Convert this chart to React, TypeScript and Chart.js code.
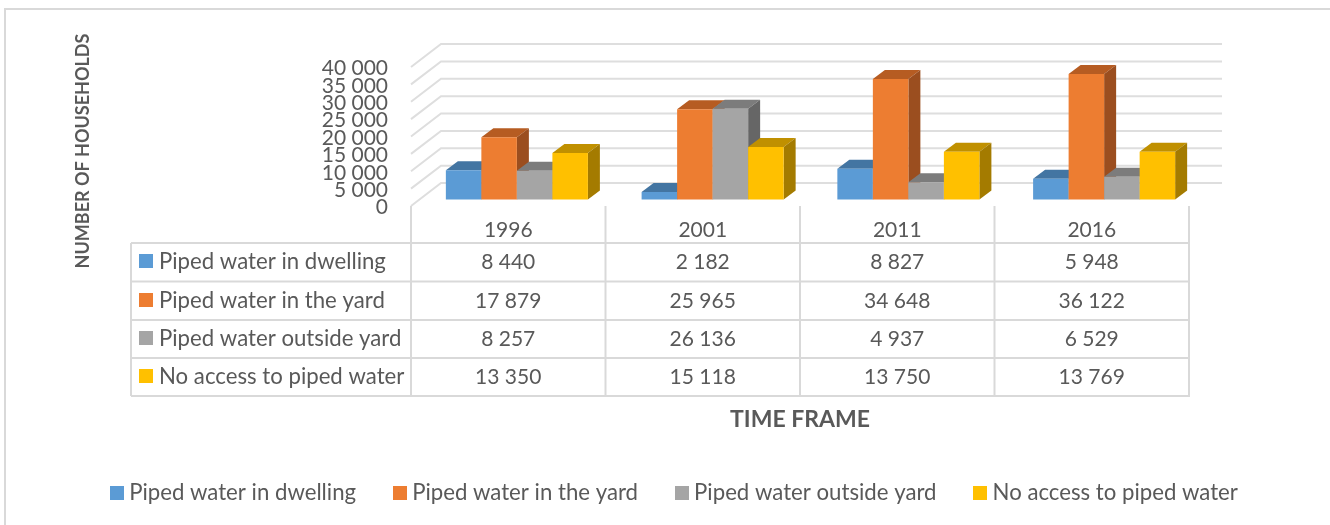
import React, { useEffect, useRef } from "react";
import { Chart, registerables } from "chart.js";

Chart.register(...registerables);

const categories = ["1996", "2001", "2011", "2016"];
const seriesNames = [
  "Piped water in dwelling",
  "Piped water in the yard",
  "Piped water outside yard",
  "No access to piped water",
];
const inDwelling = [8440, 2182, 8827, 5948];
const inYard = [17879, 25965, 34648, 36122];
const outsideYard = [8257, 26136, 4937, 6529];
const noAccess = [13350, 15118, 13750, 13769];
const seriesValues = [inDwelling, inYard, outsideYard, noAccess];
const yTicks = [0, 5000, 10000, 15000, 20000, 25000, 30000, 35000, 40000];
const yAxisTitle = "NUMBER OF HOUSEHOLDS";
const xAxisTitle = "TIME FRAME";

const frontColors = ["#5B9BD5", "#ED7D31", "#A5A5A5", "#FFC000"];
const topColors = ["#4375A2", "#B65C22", "#7C7C7C", "#C09000"];
const sideColors = ["#386085", "#9B4E1F", "#666666", "#A47B00"];

const FONT = "Lato";
const TEXT = "#595959";
const GRID = "#D9D9D9";
const fmt = (v: number) => String(v).replace(/\B(?=(\d{3})+$)/g, " ");

const swatch = (color: string) => {
  const c = document.createElement("canvas");
  c.width = 14;
  c.height = 14;
  const g = c.getContext("2d")!;
  g.fillStyle = color;
  g.fillRect(0, 0, 14, 14);
  return c;
};

const DEPTH_X = 12;
const DEPTH_Y = 9;

const chart3d = {
  id: "chart3d",
  beforeDatasetsDraw(chart: any) {
    const ctx = chart.ctx;
    const y = chart.scales.y;
    ctx.save();
    // frame
    ctx.strokeStyle = GRID;
    ctx.lineWidth = 2;
    ctx.strokeRect(5, 9, 1340, 540);
    // walls
    ctx.lineWidth = 2;
    ctx.strokeStyle = "#DEDEDE";
    for (const v of yTicks) {
      const p = y.getPixelForValue(v);
      ctx.beginPath();
      ctx.moveTo(411, p + 6.5);
      ctx.lineTo(441, p - 16.5);
      ctx.lineTo(1222, p - 16.5);
      ctx.stroke();
    }
    // tick labels on the front plane
    ctx.fillStyle = TEXT;
    ctx.font = `21px ${FONT}`;
    ctx.textAlign = "right";
    ctx.textBaseline = "middle";
    for (const v of yTicks) {
      ctx.fillText(fmt(v), 388, y.getPixelForValue(v) + 8);
    }
    // bars, left to right, so each one covers the side of the previous
    seriesValues.forEach((_, i) => {
      const meta = chart.getDatasetMeta(i);
      meta.data.forEach((el: any) => {
        const { x, y: top, width, base } = el.getProps(["x", "y", "width", "base"], true);
        const l = x - width / 2;
        const r = x + width / 2;
        ctx.fillStyle = topColors[i];
        ctx.beginPath();
        ctx.moveTo(l, top);
        ctx.lineTo(l + DEPTH_X, top - DEPTH_Y);
        ctx.lineTo(r + DEPTH_X, top - DEPTH_Y);
        ctx.lineTo(r, top);
        ctx.closePath();
        ctx.fill();
        ctx.fillStyle = sideColors[i];
        ctx.beginPath();
        ctx.moveTo(r, top);
        ctx.lineTo(r + DEPTH_X, top - DEPTH_Y);
        ctx.lineTo(r + DEPTH_X, base - DEPTH_Y);
        ctx.lineTo(r, base);
        ctx.closePath();
        ctx.fill();
        el.draw(ctx);
      });
    });
    ctx.restore();
    return false;
  },
  afterDraw(chart: any) {
    const ctx = chart.ctx;
    ctx.save();
    const cols = [411, 605.5, 800, 994.5, 1189];
    const rows = [243, 281.5, 320, 358, 396];
    ctx.strokeStyle = GRID;
    ctx.lineWidth = 2;
    for (const x of cols) {
      ctx.beginPath();
      ctx.moveTo(x, 206);
      ctx.lineTo(x, 396);
      ctx.stroke();
    }
    ctx.beginPath();
    ctx.moveTo(131, 243);
    ctx.lineTo(131, 396);
    ctx.stroke();
    for (const r of rows) {
      ctx.beginPath();
      ctx.moveTo(131, r);
      ctx.lineTo(1190, r);
      ctx.stroke();
    }
    ctx.fillStyle = TEXT;
    ctx.font = `21px ${FONT}`;
    ctx.textBaseline = "middle";
    ctx.textAlign = "center";
    categories.forEach((c, j) => {
      ctx.fillText(c, (cols[j] + cols[j + 1]) / 2, 230);
    });
    seriesNames.forEach((name, i) => {
      const cy = (rows[i] + rows[i + 1]) / 2;
      ctx.fillStyle = frontColors[i];
      ctx.fillRect(139, Math.round(cy - 8), 14, 14);
      ctx.fillStyle = TEXT;
      ctx.textAlign = "left";
      ctx.font = `22.2px ${FONT}`;
      ctx.fillText(name, 159, cy);
      ctx.textAlign = "center";
      ctx.font = `21px ${FONT}`;
      seriesValues[i].forEach((v, j) => {
        ctx.fillText(fmt(v), (cols[j] + cols[j + 1]) / 2, cy);
      });
    });
    // axis titles
    ctx.font = `bold 23px ${FONT}`;
    ctx.fillText(xAxisTitle, 800, 420);
    ctx.save();
    ctx.translate(83, 151);
    ctx.rotate(-Math.PI / 2);
    ctx.font = `bold 18px ${FONT}`;
    ctx.fillText(yAxisTitle, 0, 0);
    ctx.restore();
    ctx.restore();
  },
};

export default function App() {
  const ref = useRef<HTMLCanvasElement>(null);
  useEffect(() => {
    const chart = new Chart(ref.current!, {
      type: "bar",
      data: {
        labels: categories,
        datasets: seriesNames.map((name, i) => ({
          label: name,
          data: seriesValues[i],
          backgroundColor: frontColors[i],
          borderWidth: 0,
          categoryPercentage: 0.7256,
          barPercentage: 1,
        })),
      },
      options: {
        responsive: false,
        animation: false,
        events: [],
        layout: { padding: { left: 23, right: 0, top: 60.5, bottom: 11 } },
        plugins: {
          tooltip: { enabled: false },
          title: { display: false },
          legend: {
            display: true,
            position: "bottom",
            labels: {
              font: { family: FONT, size: 22.2 },
              color: TEXT,
              usePointStyle: true,
              pointStyleWidth: 3,
              boxHeight: 14,
              padding: 42,
              generateLabels: () =>
                seriesNames.map((name, i) => ({
                  text: name,
                  fillStyle: frontColors[i],
                  strokeStyle: frontColors[i],
                  lineWidth: 0,
                  pointStyle: swatch(frontColors[i]),
                  datasetIndex: i,
                  fontColor: TEXT,
                })),
            },
          },
        },
        scales: {
          x: {
            display: true,
            ticks: { display: false },
            grid: { display: false },
            border: { display: false },
            afterFit: (s: any) => {
              s.height = 240.3;
            },
          },
          y: {
            min: 0,
            max: 40000,
            ticks: { display: false, stepSize: 5000 },
            grid: { display: false },
            border: { display: false },
            afterFit: (s: any) => {
              s.width = 396;
            },
          },
          yRight: {
            position: "right",
            display: true,
            ticks: { display: false },
            grid: { display: false },
            border: { display: false },
            afterFit: (s: any) => {
              s.width = 128;
            },
          },
        },
      },
      plugins: [chart3d],
    } as any);
    return () => chart.destroy();
  }, []);
  return (
    <canvas
      ref={ref}
      width={1330}
      height={525}
      style={{ position: "fixed", left: 0, top: 0 }}
    />
  );
}
